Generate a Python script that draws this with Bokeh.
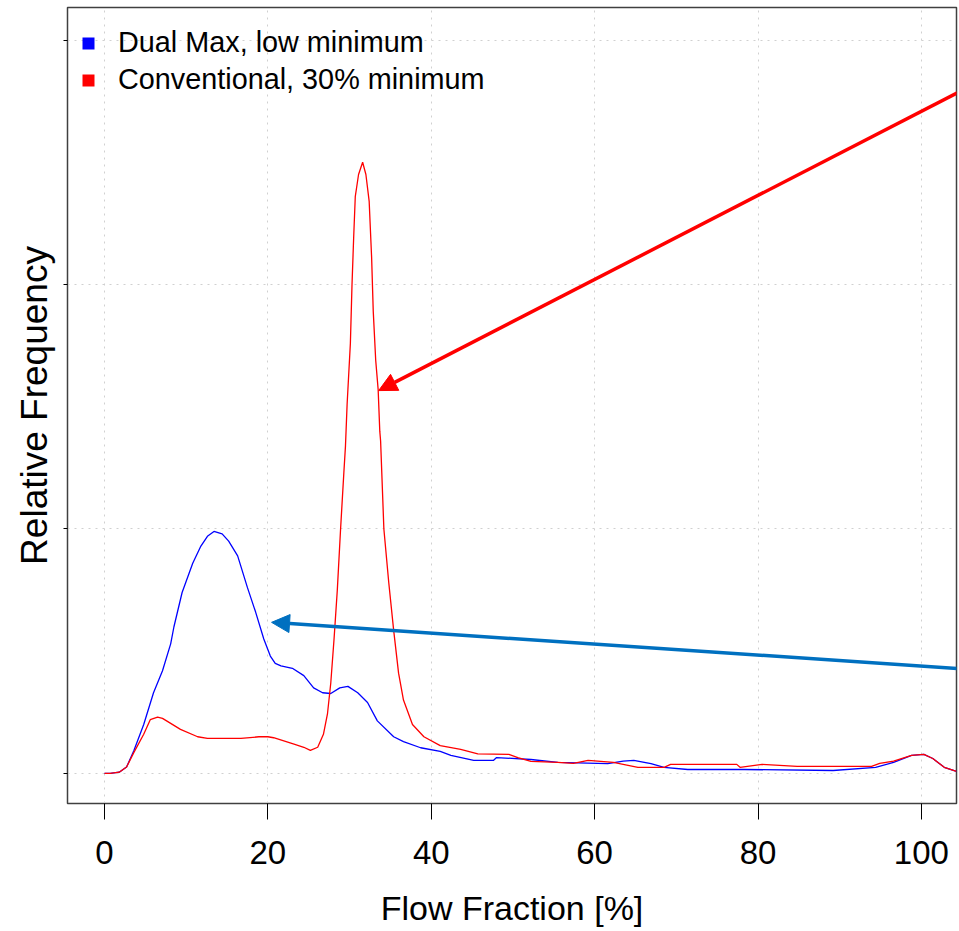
from bokeh.plotting import figure
from bokeh.models import (Range1d, FixedTicker, Legend, LegendItem, Arrow, NormalHead,
                          ColumnDataSource)
from bokeh.embed import file_html
from bokeh.resources import INLINE

# ---- data ----
dual_x = [0, 0.7, 1.8, 2.7, 3.6, 4.8, 6.0, 7.1, 8.1, 8.5, 9.5, 10.8, 11.8, 12.6, 13.4, 14.4,
          15.2, 16.3, 17.5, 18.5, 19.5, 20.3, 20.9, 21.6, 23.0, 24.4, 25.6, 26.7, 27.7, 28.8,
          29.8, 31.0, 32.2, 33.4, 35.4, 36.6, 38.7, 41.1, 42.4, 45.2, 47.6, 48.0, 52.2, 55.5,
          61.6, 63.5, 64.8, 66.9, 68.5, 71.4, 78.3, 89.2, 94.4, 96.6, 98.8, 100.3, 101.4,
          102.8, 104.3]
dual_y = [0, 0, 0.005, 0.026, 0.094, 0.20, 0.33, 0.42, 0.53, 0.60, 0.74, 0.86, 0.93, 0.97,
          0.99, 0.98, 0.95, 0.89, 0.76, 0.66, 0.55, 0.48, 0.45, 0.44, 0.43, 0.40, 0.35, 0.33,
          0.327, 0.35, 0.356, 0.33, 0.29, 0.215, 0.15, 0.13, 0.105, 0.09, 0.074, 0.053, 0.053,
          0.065, 0.057, 0.045, 0.04, 0.05, 0.053, 0.04, 0.025, 0.016, 0.016, 0.012, 0.025,
          0.045, 0.074, 0.078, 0.061, 0.025, 0.008]

conv_x = [0, 0.7, 1.8, 2.7, 3.6, 4.8, 5.6, 6.5, 7.1, 9.3, 11.4, 12.6, 16.7, 18.9, 20.0, 20.7,
          23.2, 24.4, 25.2, 26.1, 26.8, 27.3, 27.7, 28.1, 28.5, 28.9, 29.3, 29.5, 29.7, 30.1,
          30.3, 30.5, 30.7, 31.1, 31.6, 32.0, 32.4, 32.7, 32.9, 33.2, 33.5, 33.7, 33.8, 34.2,
          34.8, 35.4, 36.0, 36.6, 37.7, 39.1, 41.1, 43.6, 45.7, 49.5, 50.6, 52.2, 55.5, 57.4,
          59.2, 62.3, 65.3, 68.5, 69.3, 72.6, 77.4, 77.8, 80.5, 84.8, 93.9, 94.9, 96.6, 98.8,
          100.3, 101.4, 102.8, 104.3]
conv_y = [0, 0, 0.005, 0.026, 0.086, 0.16, 0.22, 0.23, 0.225, 0.18, 0.15, 0.143, 0.143, 0.15,
          0.15, 0.146, 0.12, 0.107, 0.094, 0.107, 0.16, 0.245, 0.37, 0.55, 0.75, 1.0, 1.23,
          1.34, 1.51, 1.76, 2.0, 2.19, 2.36, 2.45, 2.50, 2.45, 2.34, 2.11, 1.89, 1.69, 1.57,
          1.40, 1.36, 1.0, 0.78, 0.585, 0.41, 0.30, 0.20, 0.15, 0.114, 0.098, 0.08, 0.078,
          0.065, 0.049, 0.045, 0.041, 0.053, 0.045, 0.025, 0.025, 0.037, 0.037, 0.037, 0.025,
          0.037, 0.029, 0.029, 0.041, 0.05, 0.074, 0.078, 0.061, 0.025, 0.008]

x_ticks = [0, 20, 40, 60, 80, 100]
y_ticks = [0, 1, 2, 3]
series_names = ["Dual Max, low minimum", "Conventional, 30% minimum"]
series_colors = ["#0000FF", "#FF0000"]

# annotation arrows (start -> end, data units)
red_arrow = dict(x_start=104.7, y_start=2.789, x_end=33.56, y_end=1.566)
blue_arrow = dict(x_start=104.7, y_start=0.4286, x_end=20.45, y_end=0.618)

FONT = "Liberation Sans"

p = figure(width=959, height=931, output_backend="svg", toolbar_location=None,
           x_range=Range1d(-4.53, 104.3), y_range=Range1d(-0.123, 3.133),
           min_border_left=67, min_border_right=3, min_border_top=7, min_border_bottom=128,
           background_fill_color="white", border_fill_color="white")

p.outline_line_color = "#404040"
p.outline_line_width = 1.5

# grid
for g in (p.xgrid, p.ygrid):
    g.grid_line_color = "#d0d0d0"
    g.grid_line_dash = "2 5"
    g.grid_line_width = 1
p.xaxis.ticker = FixedTicker(ticks=x_ticks)
p.yaxis.ticker = FixedTicker(ticks=y_ticks)

# x axis
xa = p.xaxis[0]
xa.axis_line_color = "#404040"
xa.major_tick_line_color = "black"
xa.major_tick_out = 16
xa.major_tick_in = 0
xa.minor_tick_line_color = None
xa.major_label_text_font = FONT
xa.major_label_text_font_size = "33px"
xa.major_label_text_color = "black"
xa.major_label_standoff = 21
xa.axis_label = "Flow Fraction [%]"
xa.axis_label_text_font = FONT
xa.axis_label_text_font_size = "34px"
xa.axis_label_text_font_style = "normal"
xa.axis_label_text_color = "black"
xa.axis_label_standoff = 22

# y axis
ya = p.yaxis[0]
ya.axis_line_color = "#404040"
ya.major_tick_line_color = "black"
ya.major_tick_out = 4
ya.major_tick_in = 0
ya.minor_tick_line_color = None
ya.major_label_overrides = {t: "" for t in y_ticks}
ya.major_label_standoff = 0
ya.axis_label = "Relative Frequency"
ya.axis_label_text_font = FONT
ya.axis_label_text_font_size = "37px"
ya.axis_label_text_font_style = "normal"
ya.axis_label_text_color = "black"
ya.axis_label_standoff = 9

# curves
p.line(dual_x, dual_y, line_color=series_colors[0], line_width=1.3)
p.line(conv_x, conv_y, line_color=series_colors[1], line_width=1.3)

# arrows
p.add_layout(Arrow(end=NormalHead(size=18, fill_color="#FF0000", line_color="#FF0000"),
                   line_color="#FF0000", line_width=3.5, **red_arrow))
p.add_layout(Arrow(end=NormalHead(size=18, fill_color="#0070C0", line_color="#0070C0"),
                   line_color="#0070C0", line_width=3.5, **blue_arrow))

# legend (square markers; the renderers hold no drawable point)
items = []
for name, col in zip(series_names, series_colors):
    src = ColumnDataSource(dict(x=[float("nan")], y=[float("nan")]))
    r = p.scatter("x", "y", source=src, marker="square", size=12,
                  fill_color=col, line_color=col, line_width=0)
    items.append(LegendItem(label=name, renderers=[r]))

legend = Legend(items=items, location=(0, 701), margin=0, padding=6, spacing=4,
                glyph_width=30, glyph_height=30, label_height=30, label_standoff=15,
                label_text_font=FONT, label_text_font_size="28.8px", label_text_color="black",
                border_line_alpha=0, background_fill_alpha=0)
p.add_layout(legend)

open("out.html", "w").write(file_html(p, INLINE))
